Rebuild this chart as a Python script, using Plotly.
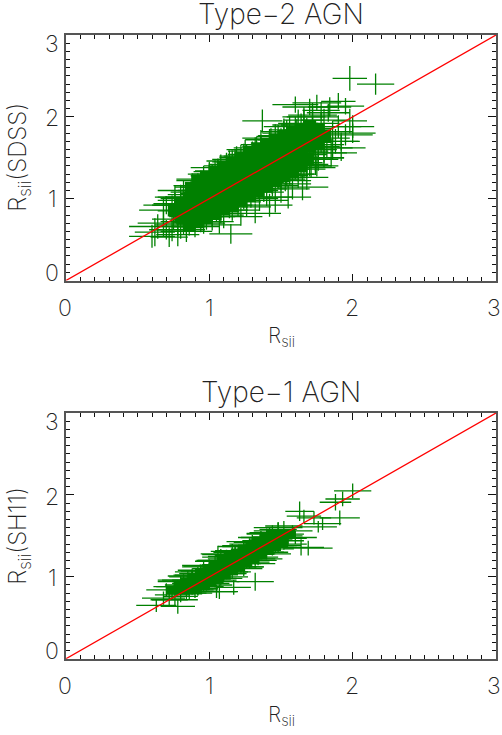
import plotly.graph_objects as go

T2_X = [0.62,0.60,0.70,0.68,0.72,0.64,0.75,0.74,0.80,0.78,
        0.82,0.85,0.80,0.86,0.88,0.84,0.90,0.87,0.92,0.90,
        0.94,0.93,0.96,0.95,0.98,0.97,0.99,1.00,1.00,1.02,
        1.02,1.03,1.04,1.05,1.05,1.06,1.07,1.08,1.08,1.09,
        1.10,1.10,1.11,1.12,1.13,1.14,1.15,1.15,1.16,1.17,
        1.18,1.19,1.20,1.20,1.22,1.22,1.23,1.24,1.25,1.26,
        1.27,1.28,1.29,1.30,1.30,1.32,1.32,1.33,1.34,1.35,
        1.36,1.37,1.38,1.40,1.40,1.41,1.42,1.43,1.44,1.45,
        1.46,1.47,1.48,1.50,1.50,1.51,1.52,1.53,1.54,1.55,
        1.56,1.57,1.58,1.60,1.60,1.61,1.62,1.63,1.64,1.65,
        1.66,1.67,1.68,1.70,1.70,1.71,1.72,1.73,1.74,1.75,
        1.75,1.76,1.78,1.80,1.80,1.82,1.83,1.85,1.86,1.88,
        1.90,1.90,1.92,1.95,1.95,1.98,2.00,2.00,1.98,2.16,
        0.76,0.82,0.86,0.92,0.96,1.02,1.06,1.12,1.16,1.22,
        1.26,1.32,1.36,1.42,1.46,1.52,1.56,1.62,1.66,1.72,
        0.78,0.84,0.90,0.95,1.00,1.04,1.10,1.14,1.20,1.24,
        1.30,1.34,1.40,1.44,1.50,1.54,1.60,1.64,1.70,1.76,
        0.68,0.74,0.80,0.88,0.94,0.98,1.04,1.08,1.14,1.18,
        1.24,1.28,1.34,1.38,1.44,1.48,1.54,1.58,1.68,1.78,
        0.70,0.76,0.82,0.88,0.94,1.00,1.06,1.12,1.18,1.24,
        1.30,1.36,1.42,1.48,1.54,1.60,1.66,1.72,1.78,1.84,
        0.90,0.96,1.02,1.08,1.14,1.20,1.26,1.32,1.38,1.44,
        1.50,1.56,1.62,1.68,1.74,1.80,1.86,1.92,0.84,0.78]
T2_Y = [0.59,0.54,0.62,0.70,0.53,0.66,0.75,0.66,0.62,0.85,
        0.72,0.80,0.92,0.66,0.92,1.00,0.76,1.05,0.85,1.10,
        0.70,0.97,1.02,1.14,0.78,1.20,0.90,1.06,1.28,0.72,
        0.95,1.15,1.34,0.84,1.08,1.25,0.68,0.98,1.40,1.18,
        0.80,1.02,1.30,0.92,1.12,1.45,0.57,1.24,0.86,1.04,
        1.36,1.52,0.96,1.16,0.78,1.28,1.44,1.06,1.58,0.90,
        1.18,1.38,1.00,1.26,1.50,0.82,1.12,1.62,1.34,0.98,
        1.44,1.95,1.22,1.08,1.56,1.32,0.92,1.68,1.16,1.40,
        1.02,1.58,1.28,1.72,1.12,1.44,1.80,1.22,1.54,1.02,
        1.36,1.66,1.18,1.48,2.15,1.82,1.30,1.58,1.90,1.14,
        1.44,1.72,1.26,2.12,1.54,1.38,1.86,1.64,1.48,1.40,
        2.17,1.60,1.74,1.50,1.96,1.66,2.05,1.56,1.82,1.70,
        2.19,1.88,1.62,2.13,1.78,1.95,1.80,1.88,2.47,2.40,
        0.94,0.98,1.08,1.16,1.22,1.30,1.33,1.38,1.46,1.50,
        1.54,1.60,1.66,1.74,1.77,1.82,1.88,1.92,2.00,2.02,
        0.68,0.72,0.78,0.82,0.86,0.92,0.94,1.00,1.02,1.10,
        1.10,1.16,1.20,1.24,1.30,1.30,1.38,1.42,1.40,1.50,
        0.86,0.92,1.02,1.02,1.10,1.14,1.22,1.20,1.28,1.32,
        1.36,1.42,1.48,1.52,1.60,1.62,1.70,1.76,1.84,1.92,
        0.92,1.02,1.10,1.16,1.24,1.30,1.38,1.42,1.48,1.52,
        1.60,1.64,1.72,1.76,1.84,1.90,1.96,2.00,2.08,2.12,
        0.66,0.72,0.78,0.86,0.90,0.98,1.02,1.08,1.12,1.18,
        1.24,1.28,1.36,1.42,1.50,1.56,1.62,1.70,0.60,0.56]
T2_XERR = [0.14,0.16,0.12,0.18,0.13,0.20,0.15,0.12,0.17,0.14,
           0.16,0.13,0.19,0.12,0.15,0.18,0.13,0.16,0.14,0.12,
           0.17,0.15,0.13,0.19,0.12,0.14,0.16,0.20,0.13,0.15,
           0.18,0.12,0.14,0.16,0.19,0.13,0.15,0.17,0.12,0.20,
           0.14,0.16,0.13,0.18,0.15,0.12,0.15,0.17,0.19,0.13,
           0.14,0.12,0.16,0.20,0.15,0.13,0.18,0.14,0.12,0.17,
           0.16,0.13,0.19,0.15,0.12,0.18,0.14,0.16,0.13,0.20,
           0.15,0.14,0.17,0.12,0.19,0.13,0.16,0.14,0.18,0.15,
           0.12,0.17,0.14,0.16,0.20,0.13,0.15,0.18,0.12,0.16,
           0.14,0.19,0.13,0.17,0.16,0.15,0.12,0.20,0.14,0.18,
           0.13,0.16,0.15,0.19,0.12,0.17,0.14,0.18,0.16,0.15,
           0.17,0.13,0.20,0.14,0.16,0.12,0.15,0.18,0.14,0.16,
           0.12,0.16,0.17,0.13,0.19,0.12,0.16,0.15,0.12,0.13,
           0.15,0.18,0.13,0.16,0.19,0.14,0.17,0.12,0.18,0.15,
           0.13,0.17,0.14,0.19,0.12,0.16,0.18,0.14,0.15,0.17,
           0.16,0.13,0.18,0.15,0.12,0.17,0.14,0.19,0.13,0.16,
           0.18,0.15,0.12,0.17,0.14,0.19,0.13,0.16,0.15,0.18,
           0.17,0.14,0.16,0.19,0.13,0.18,0.15,0.12,0.17,0.14,
           0.19,0.13,0.16,0.15,0.18,0.12,0.17,0.14,0.16,0.13,
           0.16,0.14,0.18,0.13,0.17,0.15,0.19,0.12,0.16,0.14,
           0.18,0.13,0.17,0.15,0.12,0.16,0.14,0.18,0.13,0.15,
           0.17,0.14,0.16,0.19,0.13,0.15,0.18,0.12,0.16,0.14,
           0.17,0.13,0.19,0.15,0.12,0.16,0.14,0.13,0.18,0.15]
T2_YERR = [0.17,0.14,0.12,0.16,0.12,0.15,0.13,0.18,0.11,0.14,
           0.16,0.12,0.15,0.11,0.14,0.17,0.12,0.16,0.13,0.15,
           0.11,0.18,0.12,0.14,0.16,0.13,0.15,0.12,0.17,0.11,
           0.14,0.19,0.13,0.12,0.16,0.15,0.11,0.18,0.14,0.12,
           0.16,0.13,0.15,0.11,0.19,0.14,0.12,0.17,0.13,0.16,
           0.15,0.12,0.18,0.14,0.11,0.16,0.13,0.19,0.14,0.12,
           0.17,0.15,0.11,0.13,0.18,0.12,0.16,0.14,0.19,0.13,
           0.15,0.14,0.12,0.17,0.16,0.11,0.14,0.18,0.13,0.15,
           0.19,0.12,0.16,0.14,0.17,0.11,0.15,0.13,0.18,0.14,
           0.12,0.16,0.19,0.13,0.10,0.15,0.17,0.12,0.14,0.16,
           0.18,0.13,0.15,0.10,0.17,0.12,0.14,0.16,0.19,0.13,
           0.10,0.15,0.18,0.12,0.14,0.16,0.11,0.17,0.13,0.15,
           0.10,0.14,0.16,0.10,0.13,0.15,0.12,0.14,0.15,0.13,
           0.13,0.16,0.12,0.15,0.18,0.11,0.14,0.17,0.13,0.16,
           0.12,0.15,0.18,0.11,0.14,0.16,0.13,0.17,0.12,0.15,
           0.14,0.17,0.12,0.16,0.13,0.18,0.11,0.15,0.14,0.17,
           0.12,0.16,0.13,0.18,0.11,0.15,0.14,0.17,0.13,0.16,
           0.16,0.12,0.15,0.18,0.11,0.14,0.17,0.13,0.16,0.12,
           0.18,0.11,0.15,0.14,0.17,0.13,0.16,0.12,0.15,0.14,
           0.11,0.14,0.12,0.15,0.10,0.13,0.11,0.14,0.12,0.15,
           0.10,0.13,0.11,0.14,0.12,0.10,0.13,0.11,0.10,0.12,
           0.13,0.15,0.12,0.16,0.14,0.11,0.15,0.13,0.16,0.12,
           0.14,0.11,0.15,0.13,0.16,0.12,0.14,0.11,0.13,0.14]
T2_CORE_X = [0.80,0.86,0.92,0.98,1.04,1.10,1.16,1.22,1.28,1.34,1.40,1.46,1.52,1.58,1.64,1.70,1.76,
             0.86,0.92,0.98,1.04,1.10,1.16,1.22,1.28,1.34,1.40,1.46,1.52,1.58,1.64,
             0.92,0.98,1.04,1.10,1.16,1.22,1.28,1.34,1.40,1.46,1.52,1.58,1.64,1.70]
T2_CORE_Y = [0.86,0.92,0.98,1.04,1.10,1.16,1.22,1.27,1.33,1.39,1.45,1.50,1.56,1.61,1.66,1.72,1.76,
             0.76,0.80,0.85,0.90,0.96,1.01,1.06,1.12,1.18,1.24,1.30,1.36,1.42,1.48,
             1.12,1.18,1.24,1.30,1.35,1.41,1.47,1.52,1.58,1.63,1.68,1.72,1.76,1.80]
T2_CORE_XERR = [0.09]*45
T2_CORE_YERR = [0.16]*45

T1_X = [0.63,0.78,0.72,0.68,0.74,0.70,0.76,0.80,0.78,0.82,
        0.84,0.80,0.86,0.88,0.85,0.90,0.92,0.88,0.94,0.96,
        0.92,0.98,1.00,0.96,1.02,1.04,1.00,1.05,1.06,1.08,
        1.04,1.10,1.12,1.08,1.07,1.14,1.16,1.12,1.17,1.18,
        1.20,1.16,1.22,1.24,1.20,1.26,1.28,1.24,1.30,1.32,
        1.28,1.32,1.34,1.36,1.32,1.38,1.40,1.36,1.42,1.44,
        1.40,1.46,1.48,1.44,1.50,1.52,1.48,1.54,1.55,1.58,
        1.52,1.60,1.63,1.66,1.73,1.91,1.76,1.79,1.64,1.69,
        2.00,1.88,1.93,
        0.82,0.88,0.94,1.00,1.06,1.12,1.18,1.24,1.30,1.36,1.42,1.48,
        0.86,0.92,0.98,1.04,1.10,1.16,1.22,1.28,1.34,1.40,1.46,1.52,
        0.76,0.82,0.88,0.94,1.00,1.06,1.12,1.18,1.24,1.30,1.36,1.42,
        0.90,0.96,1.02,1.08,1.14,1.20,1.26,1.32,1.38,1.44]
T1_Y = [0.65,0.64,0.72,0.74,0.78,0.84,0.72,0.76,0.88,0.90,
        0.80,0.94,0.96,0.84,1.00,0.92,0.86,1.02,1.04,0.94,
        1.06,1.00,1.10,1.12,0.98,1.06,0.92,0.82,1.27,1.14,
        1.20,1.04,1.10,1.28,0.82,1.22,1.12,1.04,0.87,1.26,
        1.16,1.32,1.22,1.10,1.30,1.32,1.20,1.38,1.28,0.94,
        1.40,1.36,1.22,1.44,1.20,1.36,1.46,1.30,1.42,1.34,
        1.52,1.46,1.38,1.56,1.50,1.44,1.60,1.52,1.47,1.56,
        1.62,1.48,1.80,1.74,1.72,1.72,1.61,1.65,1.36,1.35,
        2.05,1.91,1.95,
        0.96,1.01,1.07,1.13,1.19,1.25,1.31,1.37,1.43,1.48,1.53,1.58,
        0.80,0.84,0.90,0.96,1.00,1.06,1.12,1.16,1.24,1.28,1.36,1.40,
        0.88,0.96,1.02,1.08,1.14,1.20,1.24,1.30,1.37,1.42,1.48,1.54,
        0.82,0.88,0.94,0.98,1.06,1.12,1.18,1.22,1.30,1.36]
T1_XERR = [0.14,0.12,0.13,0.15,0.12,0.14,0.16,0.12,0.15,0.13,
           0.14,0.16,0.12,0.15,0.13,0.16,0.14,0.12,0.15,0.13,
           0.16,0.14,0.12,0.15,0.17,0.13,0.14,0.14,0.11,0.15,
           0.13,0.16,0.12,0.14,0.13,0.15,0.17,0.13,0.12,0.14,
           0.16,0.12,0.15,0.13,0.17,0.14,0.12,0.15,0.16,0.13,
           0.14,0.12,0.17,0.13,0.15,0.14,0.12,0.16,0.13,0.15,
           0.14,0.12,0.16,0.13,0.15,0.14,0.17,0.12,0.13,0.14,
           0.13,0.15,0.10,0.12,0.12,0.14,0.13,0.13,0.16,0.17,
           0.13,0.11,0.12,
           0.15,0.17,0.14,0.18,0.16,0.13,0.17,0.15,0.18,0.14,0.16,0.13,
           0.16,0.14,0.18,0.15,0.17,0.13,0.16,0.18,0.14,0.17,0.15,0.16,
           0.15,0.18,0.13,0.16,0.19,0.14,0.17,0.15,0.18,0.13,0.16,0.14,
           0.17,0.14,0.19,0.15,0.13,0.18,0.16,0.14,0.17,0.15]
T1_YERR = [0.08,0.09,0.07,0.08,0.06,0.08,0.09,0.07,0.08,0.06,
           0.08,0.07,0.09,0.06,0.08,0.07,0.09,0.06,0.08,0.07,
           0.06,0.09,0.07,0.08,0.06,0.07,0.08,0.08,0.11,0.07,
           0.06,0.08,0.07,0.06,0.09,0.08,0.06,0.07,0.09,0.07,
           0.06,0.08,0.07,0.09,0.06,0.08,0.07,0.06,0.08,0.11,
           0.07,0.06,0.08,0.07,0.09,0.06,0.08,0.07,0.06,0.08,
           0.07,0.06,0.08,0.07,0.06,0.08,0.07,0.06,0.08,0.07,
           0.06,0.08,0.12,0.08,0.08,0.09,0.07,0.08,0.10,0.09,
           0.09,0.10,0.09,
           0.07,0.06,0.08,0.07,0.06,0.08,0.07,0.06,0.08,0.07,0.06,0.08,
           0.08,0.06,0.07,0.09,0.06,0.08,0.07,0.06,0.08,0.07,0.06,0.07,
           0.07,0.06,0.08,0.06,0.07,0.05,0.08,0.06,0.07,0.06,0.08,0.06,
           0.08,0.07,0.06,0.09,0.07,0.06,0.08,0.07,0.06,0.08]
T1_CORE_X = [0.80,0.85,0.90,0.95,1.00,1.05,1.10,1.15,1.20,1.25,1.30,1.35,1.40,1.45,1.50,
             0.85,0.90,0.95,1.00,1.05,1.10,1.15,1.20,1.25,1.30,1.35,1.40,1.45]
T1_CORE_Y = [0.84,0.89,0.94,0.99,1.05,1.10,1.15,1.20,1.25,1.29,1.34,1.39,1.44,1.48,1.52,
             0.84,0.89,0.93,0.98,1.02,1.07,1.12,1.17,1.22,1.27,1.32,1.37,1.42]
T1_CORE_XERR = [0.10]*28
T1_CORE_YERR = [0.05]*28

LINE_X = [0, 3]
LINE_Y = [0, 3]
TICKS = [0, 1, 2, 3]
TITLES = ["Type\u22122 AGN", "Type\u22121 AGN"]
YTITLES = ["R<sub>sii</sub>(SDSS)", "R<sub>sii</sub>(SH11)"]
XTITLE = "R<sub>sii</sub>"

W, H = 502, 735
GREEN = "rgb(0,128,0)"
FONT = "Inter"
TXT = "#222222"
fig = go.Figure()

def crosses(x, y, ex, ey, xa, ya, th):
    fig.add_trace(go.Scatter(x=x, y=y, xaxis=xa, yaxis=ya, mode="markers",
        marker=dict(size=1, color=GREEN, opacity=0),
        error_x=dict(type="data", array=ex, color=GREEN, thickness=th, width=0),
        error_y=dict(type="data", array=ey, color=GREEN, thickness=th, width=0),
        showlegend=False, hoverinfo="skip"))

crosses(T2_CORE_X, T2_CORE_Y, T2_CORE_XERR, T2_CORE_YERR, "x", "y", 13)
crosses(T2_X, T2_Y, T2_XERR, T2_YERR, "x", "y", 1.3)
crosses(T1_CORE_X, T1_CORE_Y, T1_CORE_XERR, T1_CORE_YERR, "x2", "y2", 9)
crosses(T1_X, T1_Y, T1_XERR, T1_YERR, "x2", "y2", 1.3)
for xa, ya in (("x", "y"), ("x2", "y2")):
    fig.add_trace(go.Scatter(x=LINE_X, y=LINE_Y, xaxis=xa, yaxis=ya, mode="lines",
                             line=dict(color="red", width=1.3), showlegend=False, hoverinfo="skip"))

def axis(domain, anchor, ticklen):
    return dict(domain=domain, anchor=anchor, range=[0, 3], tickvals=TICKS, ticks="inside",
                ticklen=ticklen, tickcolor="#111", tickwidth=1.2, showticklabels=False,
                showline=True, linecolor="#555", linewidth=1.5, mirror="ticks", showgrid=False,
                zeroline=False,
                minor=dict(dtick=0.1, ticks="inside", ticklen=4, tickcolor="#111", tickwidth=1.2, showgrid=False))

PX = [66 / W, 496 / W]
TOP = [1 - 280.5 / H, 1 - 35 / H]
BOT = [1 - 658.7 / H, 1 - 413 / H]
ann = []
def text(t, x, y, size, angle=0):
    ann.append(dict(text=t, x=x / W, y=1 - y / H, xref="paper", yref="paper", showarrow=False,
                    xanchor="center", yanchor="middle", textangle=angle,
                    font=dict(family=FONT, size=size, color=TXT, weight=200)))

for i, (y_top, y_bot) in enumerate(((35, 280.5), (413, 658.7))):
    text(TITLES[i], 281, y_top - 21, 28)
    text(YTITLES[i], 19, (y_top + y_bot) / 2, 24, -90)
    text(XTITLE, 281, y_bot + 57, 21)
    for v, px in zip(TICKS, (65, 209, 352, 494)):
        text(str(v), px, y_bot + 27, 23)
    for v, py in zip(TICKS, (y_bot - 8, y_bot - 81, y_bot - 162, y_top + 9)):
        text(str(v), 52, py, 23)

fig.update_layout(width=W, height=H, margin=dict(l=0, r=0, t=0, b=0), paper_bgcolor="white",
                  plot_bgcolor="white", annotations=ann,
                  xaxis=axis(PX, "y", 7), yaxis=axis(TOP, "x", 8),
                  xaxis2=axis(PX, "y2", 7), yaxis2=axis(BOT, "x2", 8))
fig.write_html("out.html", post_script="document.body.style.margin='0';",
               config={"displayModeBar": False})
